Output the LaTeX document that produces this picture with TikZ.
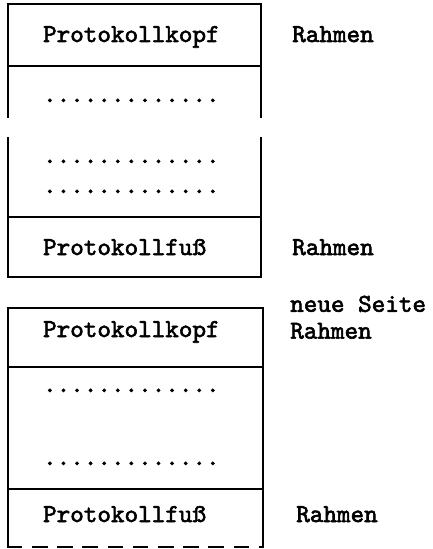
\documentclass[tikz,border=0pt]{standalone}
\usepackage{fontspec}
\newfontfamily\schreibmaschine{lmmono10-regular.otf}[FakeBold=2.2]
\tikzset{
  frame/.style={line width=1.8pt,line cap=rect},
  txt/.style={anchor=base west,inner sep=0pt,font=\schreibmaschine\fontsize{18.4}{22}\selectfont},
}
\begin{document}
\begin{tikzpicture}[x=1cm,y=1cm]
\useasboundingbox (0,0) rectangle (10.825,13.725);
% erste Seite
\draw[frame] (0.2,10.8) -- (0.2,13.625) -- (6.525,13.625) -- (6.525,10.8);
\draw[frame] (0.2,12.075) -- (6.525,12.075);
\draw[frame] (0.2,10.275) -- (0.2,6.8) -- (6.525,6.8) -- (6.525,10.275);
\draw[frame] (0.2,8.3) -- (6.525,8.3);
% zweite Seite
\draw[frame] (0.2,0.05) -- (0.2,6.025) -- (6.575,6.025) -- (6.575,0.05);
\draw[frame] (0.2,4.55) -- (6.575,4.55);
\draw[frame] (0.2,1.5) -- (6.575,1.5);
\draw[frame,dash pattern=on 0.33cm off 0.3cm] (0.2,0.05) -- (6.575,0.05);
% Texte
\node[txt] (kopfA) at (1.07,12.675) {Protokollkopf};
\node[txt] (fussA) at (1.07,7.35) {Protokollfuß};
\node[txt] (kopfB) at (1.07,5.3) {Protokollkopf};
\node[txt] (fussB) at (1.07,0.675) {Protokollfuß};
\foreach \y/\n in {11.175/a,9.65/b,8.9/c,3.925/d,2.1/e}
  \node[txt] (dots\n) at (1.07,\y) {.............};
\node[txt] (rahmenA) at (7.3,12.675) {Rahmen};
\node[txt] (rahmenB) at (7.3,7.35) {Rahmen};
\node[txt,text depth=0pt] (seite) at (7.25,5.93) {neue Seite};
\node[txt,text height=0.42cm] (rahmenC) at (7.25,5.26) {Rahmen};
\node[txt] (rahmenD) at (7.4,0.675) {Rahmen};
\end{tikzpicture}
\end{document}
